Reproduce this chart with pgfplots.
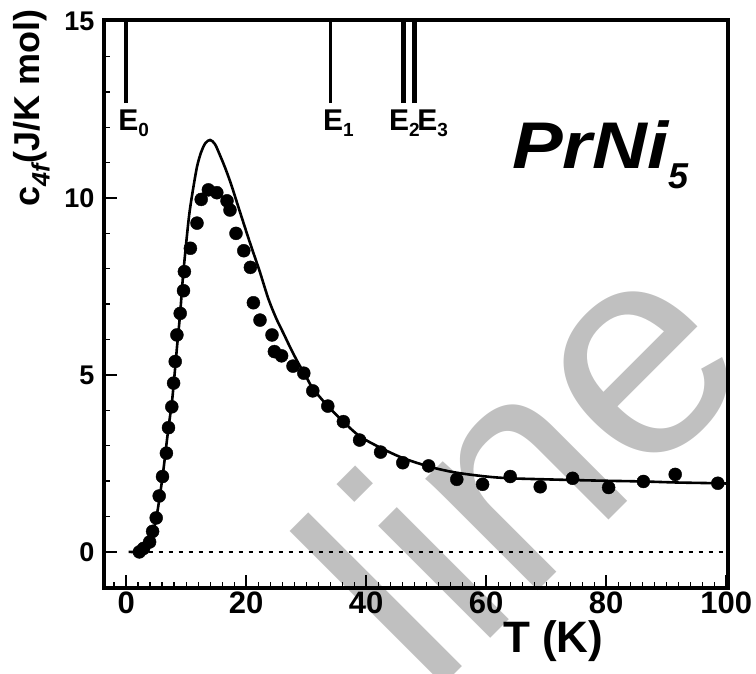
\documentclass[border=0pt]{standalone}
\usepackage{pgfplots}
\pgfplotsset{compat=1.18}
\usepackage{pgfplotstable}
\usepackage{graphicx}
\usepackage{fontspec}
\setmainfont{Liberation Sans}

\definecolor{wm}{RGB}{192,192,192}
\newcommand\esub[1]{\raisebox{-6bp}{\fontsize{19bp}{19bp}\selectfont #1}}

% measured c_4f
\pgfplotstableread{
T c
2.2 0.00
2.9 0.10
3.9 0.28
4.4 0.58
5.0 0.96
5.5 1.58
6.05 2.13
6.7 2.79
7.05 3.51
7.6 4.10
7.9 4.77
8.17 5.38
8.45 6.13
9.0 6.74
9.55 7.38
9.7 7.92
10.7 8.58
11.8 9.29
12.5 9.96
13.7 10.23
15.1 10.15
16.8 9.92
17.3 9.66
18.3 9.00
19.6 8.51
20.7 8.04
21.2 7.04
22.3 6.55
24.3 6.13
24.7 5.66
25.9 5.54
27.8 5.25
29.6 5.05
31.1 4.55
33.6 4.12
36.2 3.68
38.9 3.16
42.4 2.82
46.1 2.52
50.4 2.43
55.1 2.05
59.4 1.91
64.0 2.13
69.0 1.84
74.4 2.08
80.4 1.82
86.2 1.99
91.5 2.19
98.6 1.94
}\meas

% calculated curve
\pgfplotstableread{
T c
0.4 0
1.5 0.0
2.2 0.03
3 0.12
4 0.34
5 0.95
6 2.05
7 3.45
7.6 4.2
8 4.9
8.5 5.85
9 6.75
9.5 7.85
10.4 9.38
11 10.1
11.8 10.88
12.5 11.3
13.2 11.55
14 11.64
14.8 11.52
15.6 11.22
16.5 10.85
17.5 10.38
18.5 9.85
19.6 9.27
20.5 8.8
21.4 8.35
22.3 7.9
23.7 7.15
25 6.6
26.2 6.18
27.5 5.72
28.7 5.33
30 4.95
31.1 4.62
33.6 4.12
36.2 3.68
38.9 3.27
42.3 2.95
46 2.66
50.7 2.4
55 2.24
60 2.13
64 2.08
70 2.05
74.6 2.03
80 2.01
86.2 1.99
92 1.96
98.6 1.94
100.3 1.93
}\calc

\begin{document}
\begin{tikzpicture}
% watermark
\node[anchor=base west, inner sep=0, rotate=45, text=wm,
  font=\fontsize{300bp}{300bp}\selectfont] at (325bp,-112bp) {line};

\begin{axis}[
  at={(0,0)}, anchor=south west,
  scale only axis, width=624bp, height=568bp,
  xmin=-3.7, xmax=100.3, ymin=-1.02, ymax=15.03,
  axis line style={line width=4.5bp},
  xtick={0,20,...,100}, ytick={0,5,10,15},
  minor xtick={-2,0,...,100}, minor ytick={-1,0,...,15},
  tick pos=left, tick align=inside,
  major tick length=13bp, minor tick length=6bp,
  major tick style={black, line width=1.6bp},
  minor tick style={black, line width=1.4bp},
  /pgf/number format/assume math mode=true,
  xticklabel style={font=\fontsize{31bp}{31bp}\selectfont\bfseries},
  yticklabel style={font=\fontsize{27bp}{27bp}\selectfont\bfseries, xshift=-6bp},
  xlabel={T (K)},
  xlabel style={at={(rel axis cs:0.72,-0.093)}, anchor=center,
    font=\fontsize{44bp}{44bp}\selectfont\bfseries},
  ylabel={c\textsubscript{\itshape 4f}(J/K mol)},
  ylabel style={at={(rel axis cs:-0.116,0.845)}, anchor=center,
    font=\fontsize{36bp}{36bp}\selectfont\bfseries},
  clip=false,
]
% zero line
\addplot[black, line width=1.5bp, dash pattern=on 4bp off 6bp] coordinates {(0.4,0) (100.3,0)};
% level markers
\addplot[black, line width=4bp] coordinates {(0,12.68) (0,15.03)};
\addplot[black, line width=3bp] coordinates {(34.0,12.68) (34.0,15.03)};
\addplot[black, line width=5bp] coordinates {(46.2,12.68) (46.2,15.03)};
\addplot[black, line width=5bp] coordinates {(48.1,12.68) (48.1,15.03)};

\addplot[black, line width=2.6bp, smooth] table {\calc};
\addplot[black, only marks, mark=*, mark size=6.5bp] table {\meas};

\begin{scope}[every node/.style={anchor=base west, inner sep=0,
    font=\fontsize{30bp}{30bp}\selectfont\bfseries}]
\node at (axis cs:-1.33,11.92) {E\esub{0}};
\node at (axis cs:32.8,11.92) {E\esub{1}};
\node at (axis cs:43.8,11.92) {E\esub{2}};
\node at (axis cs:48.5,11.92) {E\esub{3}};
\end{scope}
\node[anchor=base west, inner sep=0, font=\fontsize{66bp}{66bp}\selectfont\bfseries\itshape]
  at (axis cs:64.3,10.82) {\scalebox{1.15}[1]{PrNi}\raisebox{-20bp}{\fontsize{36bp}{36bp}\selectfont 5}};
\end{axis}
\pgfresetboundingbox
\path[use as bounding box] (-104bp,-86bp) rectangle (652bp,588bp);
\end{tikzpicture}
\end{document}
